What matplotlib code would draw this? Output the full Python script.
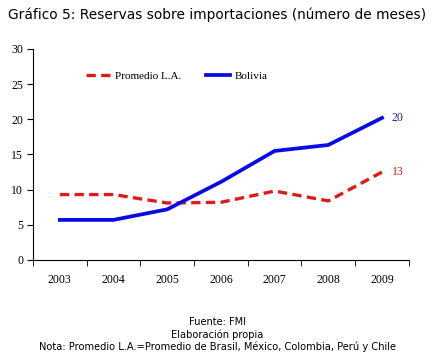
import matplotlib.pyplot as plt

# Datos
years = ['2003', '2004', '2005', '2006', '2007', '2008', '2009']
promedio_la = [9.3, 9.3, 8.1, 8.2, 9.8, 8.4, 12.5]
bolivia = [5.7, 5.7, 7.2, 11.1, 15.5, 16.35, 20.2]

fig = plt.figure(figsize=(4.35, 3.62), dpi=100)
ax = fig.add_axes([0.0759, 0.2818, 0.864, 0.583])

x = list(range(len(years)))
ax.plot(x, promedio_la, color='#e01a1a', lw=2.4, dashes=(2.8, 1.6), label='Promedio L.A.')
ax.plot(x, bolivia, color='#0a0ae6', lw=2.7, label='Bolivia')

ax.text(x[-1] + 0.18, bolivia[-1], '20', color='#2020b0', fontsize=8.5,
        family='Liberation Serif', va='center', ha='left')
ax.text(x[-1] + 0.18, promedio_la[-1], '13', color='#c02020', fontsize=8.5,
        family='Liberation Serif', va='center', ha='left')

ax.set_xlim(-0.5, 6.5)
ax.set_ylim(0, 30)
ax.set_yticks(range(0, 31, 5))
ax.set_xticks(x)
ax.set_xticklabels(years)
ax.set_xticks([i + 0.5 for i in range(-1, 7)], minor=True)
ax.tick_params(axis='x', which='major', length=0, pad=10)
ax.tick_params(axis='x', which='minor', length=4, direction='out')
ax.tick_params(axis='y', length=4, direction='out', pad=3)
for lab in ax.get_xticklabels() + ax.get_yticklabels():
    lab.set_family('Liberation Serif')
    lab.set_fontsize(8.5)
ax.spines['top'].set_visible(False)
ax.spines['right'].set_visible(False)

leg = ax.legend(loc='upper left', bbox_to_anchor=(0.115, 0.94), ncol=2, frameon=False,
                prop={'family': 'Liberation Serif', 'size': 8}, handlelength=2.2,
                columnspacing=2.2, handletextpad=0.4)

fig.text(0.018, 0.96, 'Gráfico 5: Reservas sobre importaciones (número de meses)',
         fontsize=9.9, family='DejaVu Sans', ha='left', va='center')

notes = ['Fuente: FMI', 'Elaboración propia',
         'Nota: Promedio L.A.=Promedio de Brasil, México, Colombia, Perú y Chile']
for i, t in enumerate(notes):
    fig.text(0.5, 1 - (322 + i * 12.5) / 362, t, fontsize=7.1, family='DejaVu Sans',
             ha='center', va='center')

fig.savefig('out.png', dpi=100)
